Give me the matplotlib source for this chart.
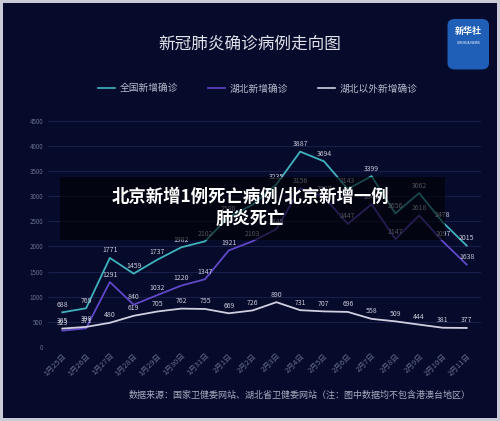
import numpy as np
import matplotlib.pyplot as plt
from matplotlib.patches import Rectangle, FancyBboxPatch

plt.rcParams['font.family'] = ['Noto Sans CJK SC', 'DejaVu Sans']

dates = ['1月25日','1月26日','1月27日','1月28日','1月29日','1月30日','1月31日','2月1日','2月2日',
         '2月3日','2月4日','2月5日','2月6日','2月7日','2月8日','2月9日','2月10日','2月11日']
total = [688,769,1771,1459,1737,1982,2102,2590,2829,3235,3887,3694,3143,3399,2656,3062,2478,2015]
hubei = [323,371,1291,840,1032,1220,1347,1921,2103,2345,3156,2987,2447,2841,2147,2618,2097,1638]
outside = [365,398,480,619,705,762,755,669,726,890,731,707,696,558,509,444,381,377]

bg = '#060a2b'
c_total = '#3fb3bd'
c_hubei = '#6048c8'
c_out = '#cfcfe0'

fig = plt.figure(figsize=[5.0, 4.21], dpi=100)
fig.patch.set_facecolor('#c9ccd6')
fig.add_artist(Rectangle((0.006, 0.008), 0.988, 0.985, transform=fig.transFigure,
                         facecolor=bg, edgecolor='none', zorder=0))

ax = fig.add_axes([0.096, 0.176, 0.866, 0.537])
ax.set_facecolor(bg)
x = np.arange(len(dates))
ax.plot(x, total, color=c_total, lw=1.3)
ax.plot(x, hubei, color=c_hubei, lw=1.3)
ax.plot(x, outside, color=c_out, lw=1.3)
for i in x:
    ax.text(i, total[i] + 110, str(total[i]), color='#c8cad8', fontsize=5, ha='center')
    ax.text(i, hubei[i] + 110, str(hubei[i]), color='#c8cad8', fontsize=5, ha='center')
    ax.text(i, outside[i] + 110, str(outside[i]), color='#c8cad8', fontsize=5, ha='center')
ax.set_xlim(-0.6, 17.6)
ax.set_ylim(0, 4500)
ax.set_yticks(np.arange(0, 4501, 500))
ax.set_xticks(x)
ax.set_xticklabels(dates, rotation=45, ha='right', rotation_mode='anchor')
ax.tick_params(colors='#6a7090', labelsize=4.5, length=0)
ax.tick_params(axis='x', labelsize=5.5)
ax.grid(axis='y', color='#1c2550', lw=0.6)
for s in ax.spines.values():
    s.set_visible(False)

fig.text(0.5, 0.895, '新冠肺炎确诊病例走向图', color='#e0e2ea', fontsize=12, ha='center', va='center')
legend_items = [('全国新增确诊', c_total, 0.195), ('湖北新增确诊', c_hubei, 0.415), ('湖北以外新增确诊', c_out, 0.635)]
for label, col, lx in legend_items:
    fig.add_artist(plt.Line2D([lx, lx + 0.035], [0.79, 0.79], color=col, lw=1.2, transform=fig.transFigure))
    fig.text(lx + 0.045, 0.79, label, color='#b8bccc', fontsize=7, va='center')

fig.add_artist(FancyBboxPatch((0.895, 0.835), 0.083, 0.12, boxstyle='round,pad=0.0,rounding_size=0.015',
                              transform=fig.transFigure, facecolor='#1f5fb8', edgecolor='none'))
fig.text(0.936, 0.925, '新华社', color='white', fontsize=6.5, ha='center', va='center', weight='bold')
fig.text(0.936, 0.897, 'XINHUA NEWS', color='white', fontsize=2.5, ha='center', va='center')

fig.text(0.6, 0.06, '数据来源：国家卫健委网站、湖北省卫健委网站（注：图中数据均不包含港澳台地区）',
         color='#a8acc0', fontsize=6.5, ha='center', va='center')

fig.add_artist(Rectangle((0.12, 0.43), 0.77, 0.15, transform=fig.transFigure,
                         facecolor='black', alpha=0.6, edgecolor='none', zorder=5))
fig.text(0.5, 0.506, '北京新增1例死亡病例/北京新增一例\n肺炎死亡', color='white', fontsize=12.5,
         weight='bold', ha='center', va='center', linespacing=1.25, zorder=6)

fig.savefig('out.png', dpi=100, facecolor=fig.get_facecolor())
